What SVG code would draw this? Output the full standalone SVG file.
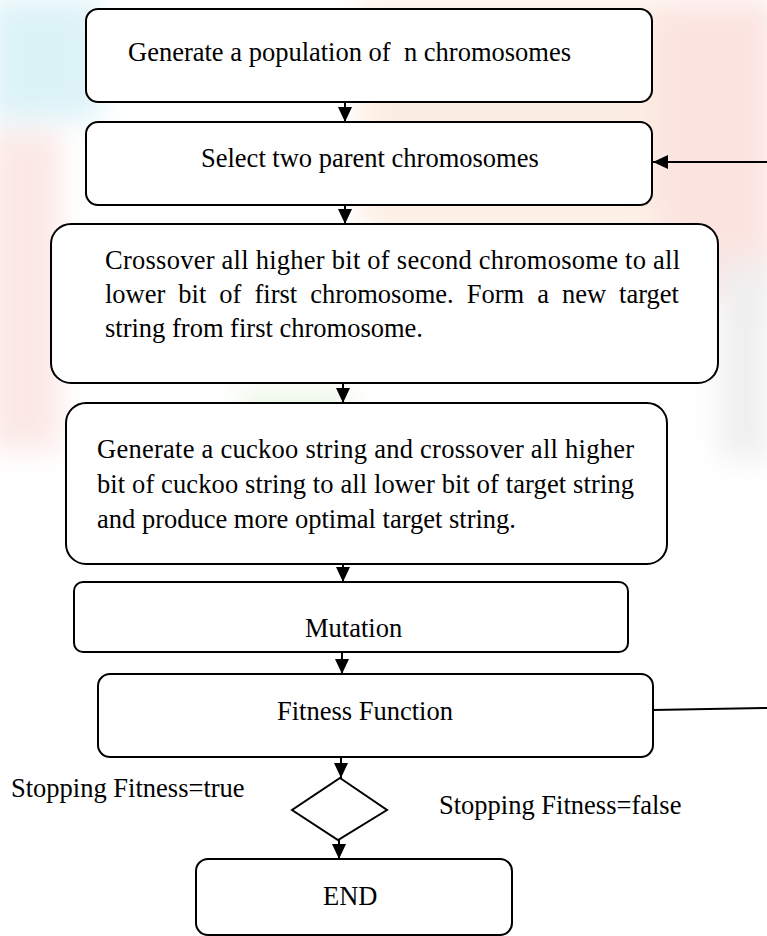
<svg xmlns="http://www.w3.org/2000/svg" width="767" height="936" viewBox="0 0 767 936">
<style>
.box{fill:#fff;stroke:#000;stroke-width:2}
.t{font-family:"Liberation Serif","Times New Roman",serif;font-size:26.5px;fill:#000;white-space:pre}
.c{stroke:#000;stroke-width:2;fill:none}
.a{marker-end:url(#ah)}
</style>
<defs>
<marker id="ah" markerUnits="userSpaceOnUse" markerWidth="16" markerHeight="15" refX="15" refY="7" orient="auto">
<path d="M0,0 L15,7 L0,14 z" fill="#000"/>
</marker>
<filter id="blur" x="-20%" y="-20%" width="140%" height="140%"><feGaussianBlur stdDeviation="14"/></filter>
</defs>
<rect width="767" height="936" fill="#fff"/>
<g id="watermark" filter="url(#blur)" opacity="0.55">
<rect x="-10" y="0" width="110" height="120" fill="#bfe8f2"/>
<rect x="360" y="0" width="300" height="230" fill="#fbe0cc"/>
<rect x="655" y="0" width="120" height="300" fill="#f8cfc8"/>
<rect x="-10" y="130" width="70" height="320" fill="#f8d6d0"/>
<rect x="240" y="390" width="110" height="90" fill="#dcefd2"/>
<rect x="720" y="260" width="50" height="200" fill="#e2e2e2"/>
</g>
<g id="connectors">
<line class="c a" x1="345" y1="102" x2="345" y2="122"/>
<line class="c a" x1="345" y1="205" x2="345" y2="224"/>
<line class="c a" x1="343" y1="383" x2="343" y2="403"/>
<line class="c a" x1="343" y1="564" x2="343" y2="582"/>
<line class="c a" x1="342" y1="652" x2="342" y2="674"/>
<line class="c a" x1="341" y1="757" x2="341" y2="778"/>
<line class="c a" x1="339" y1="840" x2="339" y2="859"/>
<line class="c a" x1="767" y1="162" x2="653" y2="162"/>
<line class="c" x1="653" y1="710" x2="767" y2="708"/>
</g>
<g id="n1"><rect class="box" x="86" y="9" width="566" height="93" rx="12"/>
<text class="t" x="128" y="61">Generate a population of  n chromosomes</text></g>
<g id="n2"><rect class="box" x="86" y="122" width="566" height="83" rx="12"/>
<text class="t" x="201" y="167">Select two parent chromosomes</text></g>
<g id="n3"><rect class="box" x="51" y="224" width="667" height="159" rx="20"/>
<text class="t" x="105" y="269" textLength="575" lengthAdjust="spacing">Crossover all higher bit of second chromosome to all</text>
<text class="t" x="105" y="303" word-spacing="6.4">lower bit of first chromosome. Form a new target</text>
<text class="t" x="105" y="337">string from first chromosome.</text></g>
<g id="n4"><rect class="box" x="66" y="403" width="601" height="161" rx="20"/>
<text class="t" x="97" y="458" textLength="537" lengthAdjust="spacing">Generate a cuckoo string and crossover all higher</text>
<text class="t" x="97" y="493" textLength="537" lengthAdjust="spacing">bit of cuckoo string to all lower bit of target string</text>
<text class="t" x="97" y="528">and produce more optimal target string.</text></g>
<g id="n5"><rect class="box" x="74" y="582" width="554" height="70" rx="9"/>
<text class="t" x="305" y="637">Mutation</text></g>
<g id="n6"><rect class="box" x="98" y="674" width="555" height="83" rx="12"/>
<text class="t" x="277" y="720">Fitness Function</text></g>
<g id="n7"><path class="box" d="M340,778 L387,810 L338,840 L292,810 Z"/></g>
<g id="n8"><rect class="box" x="196" y="859" width="316" height="76" rx="12"/>
<text class="t" x="323" y="905">END</text></g>
<g id="labels">
<text class="t" x="11" y="797">Stopping Fitness=true</text>
<text class="t" x="439" y="814">Stopping Fitness=false</text>
</g>
</svg>
